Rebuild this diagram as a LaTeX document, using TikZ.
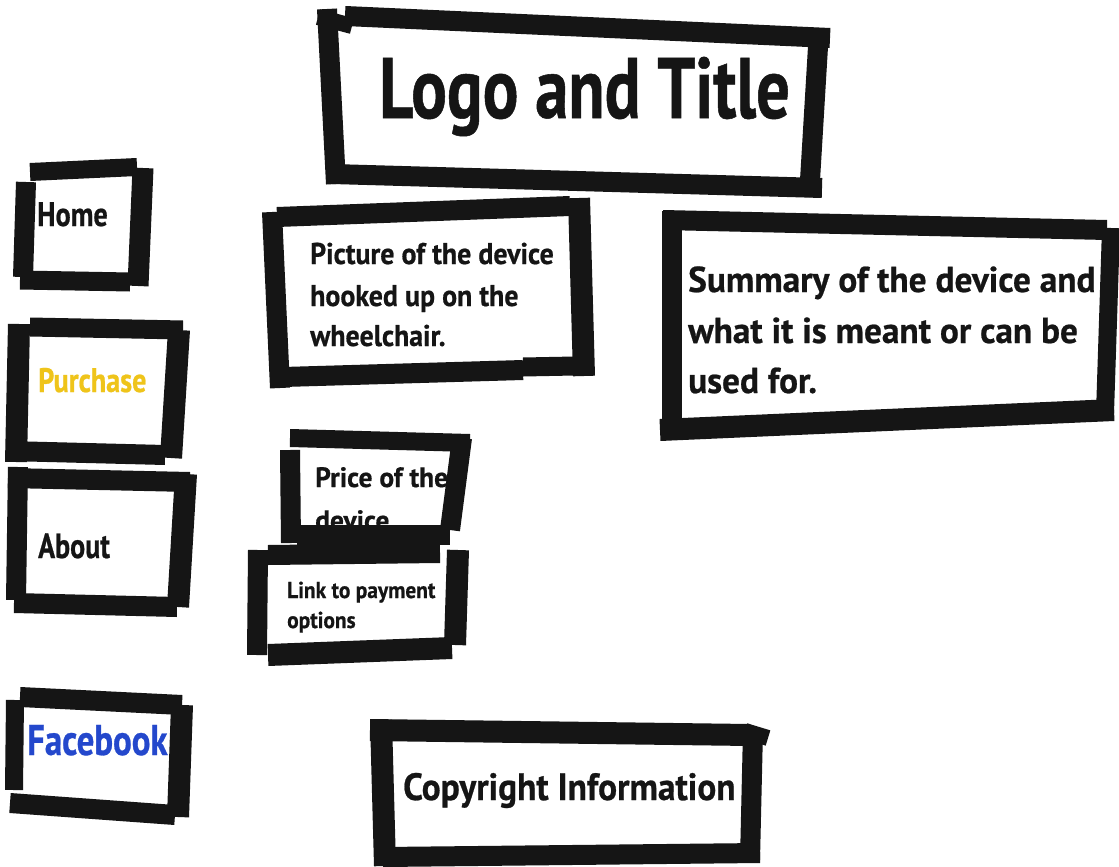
\documentclass[tikz,border=0pt]{standalone}
\usepackage{fontspec}
\setmainfont{PT Sans}
\definecolor{ink}{HTML}{151515}
\definecolor{navyellow}{HTML}{EFC41A}
\definecolor{fbblue}{HTML}{2448CC}
% size, horizontal stretch
\newcommand\txtsize[2]{\fontsize{#1}{#1}\selectfont\bfseries\addfontfeatures{FakeStretch=#2,FakeBold=0.6}}
\tikzset{
  bar/.style={draw=ink, line width=#1, line cap=butt},
  bar/.default=20pt,
  lbl/.style={anchor=base west, inner sep=0pt, text=ink}
}
\begin{document}
\begin{tikzpicture}[x=1pt,y=-1pt]
\useasboundingbox (0,0) rectangle (1119,867);
\fill[white] (0,0) rectangle (1119,867);

% ---------- text ----------
\node[lbl, font=\txtsize{86}{0.775}] (logo) at (379,118) {Logo and Title};
\node[lbl, font=\txtsize{34}{0.83}] (home) at (37,226) {Home};
\node[lbl, font=\txtsize{34}{0.83}, text=navyellow] (purchase) at (38,392) {Purchase};
\node[lbl, font=\txtsize{35}{0.8}] (about) at (38,558) {About};
\node[lbl, font=\txtsize{43}{0.81}, text=fbblue] (facebook) at (27,755) {Facebook};
\node[lbl, font=\txtsize{30}{0.93}] (pic1) at (310,264) {Picture of the device};
\node[lbl, font=\txtsize{30}{0.93}] (pic2) at (310,306) {hooked up on the};
\node[lbl, font=\txtsize{30}{0.93}] (pic3) at (310,346) {wheelchair.};
\node[lbl, font=\txtsize{36}{0.98}] (sum1) at (688,292) {Summary of the device and};
\node[lbl, font=\txtsize{36}{0.98}] (sum2) at (688,343) {what it is meant or can be};
\node[lbl, font=\txtsize{36}{0.98}] (sum3) at (688,393) {used for.};
\node[lbl, font=\txtsize{28}{0.98}] (price1) at (315,487) {Price of the};
\node[lbl, font=\txtsize{28}{0.98}] (price2) at (315,530) {device};
\node[lbl, font=\txtsize{23}{0.93}] (link1) at (287,598) {Link to payment};
\node[lbl, font=\txtsize{23}{0.93}] (link2) at (287,628) {options};
\node[lbl, font=\txtsize{38}{0.93}] (copy) at (403,800) {Copyright Information};

% ---------- Logo and Title frame ----------
\draw[bar] (345,16) -- (830,38);
\draw[bar=16pt] (318,17) -- (352,26);
\draw[bar] (327,9) -- (336,184);
\draw[bar] (332,174) -- (822,188);
\draw[bar] (819,30) -- (809,197);

% ---------- Home ----------
\draw[bar=18pt] (30,172) -- (137,167);
\draw[bar] (26,182) -- (23,277);
\draw[bar=21pt] (143,168) -- (138,286);
\draw[bar=19pt] (20,280) -- (130,282);

% ---------- Purchase ----------
\draw[bar=19pt] (30,327) -- (183,330);
\draw[bar=22pt] (19,324) -- (16,462);
\draw[bar=22pt] (179,330) -- (171,458);
\draw[bar] (8,451) -- (165,455);

% ---------- About ----------
\draw[bar] (8,478) -- (190,482);
\draw[bar] (18,467) -- (16,600);
\draw[bar=22pt] (186,474) -- (178,607);
\draw[bar] (14,603) -- (177,607);

% ---------- Facebook ----------
\draw[bar] (20,697) -- (182,705);
\draw[bar=18pt] (15,700) -- (14,790);
\draw[bar=22pt] (182,705) -- (178,817);
\draw[bar] (10,803) -- (175,815);

% ---------- Picture ----------
\draw[bar] (277,217) -- (570,206);
\draw[bar] (272,212) -- (280,388);
\draw[bar=22pt] (579,198) -- (584,376);
\draw[bar] (283,377) -- (523,370);
\draw[bar=19pt] (523,367) -- (575,366);

% ---------- Summary ----------
\draw[bar] (663,220) -- (1107,230);
\draw[bar] (672,211) -- (672,434);
\draw[bar=18pt] (1111,228) -- (1105,413);
\draw[bar=22pt] (660,430) -- (1114,410);

% ---------- Price ----------
\draw[bar=18pt] (290,438) -- (470,443);
\draw[bar] (290,450) -- (291,543);
\draw[bar] (462,438) -- (450,530);
\draw[bar] (297,535) -- (450,535);

% ---------- Link to payment ----------
\draw[bar] (268,555) -- (440,553);
\draw[bar] (258,550) -- (257,655);
\draw[bar=22pt] (458,550) -- (455,645);
\draw[bar=22pt] (268,655) -- (452,648);

% ---------- Copyright ----------
\draw[bar=22pt] (370,730) -- (750,735);
\draw[bar=16pt] (745,731) -- (768,738);
\draw[bar=22pt] (381,720) -- (385,866);
\draw[bar] (753,730) -- (750,860);
\draw[bar] (383,857) -- (760,853);
\end{tikzpicture}
\end{document}
